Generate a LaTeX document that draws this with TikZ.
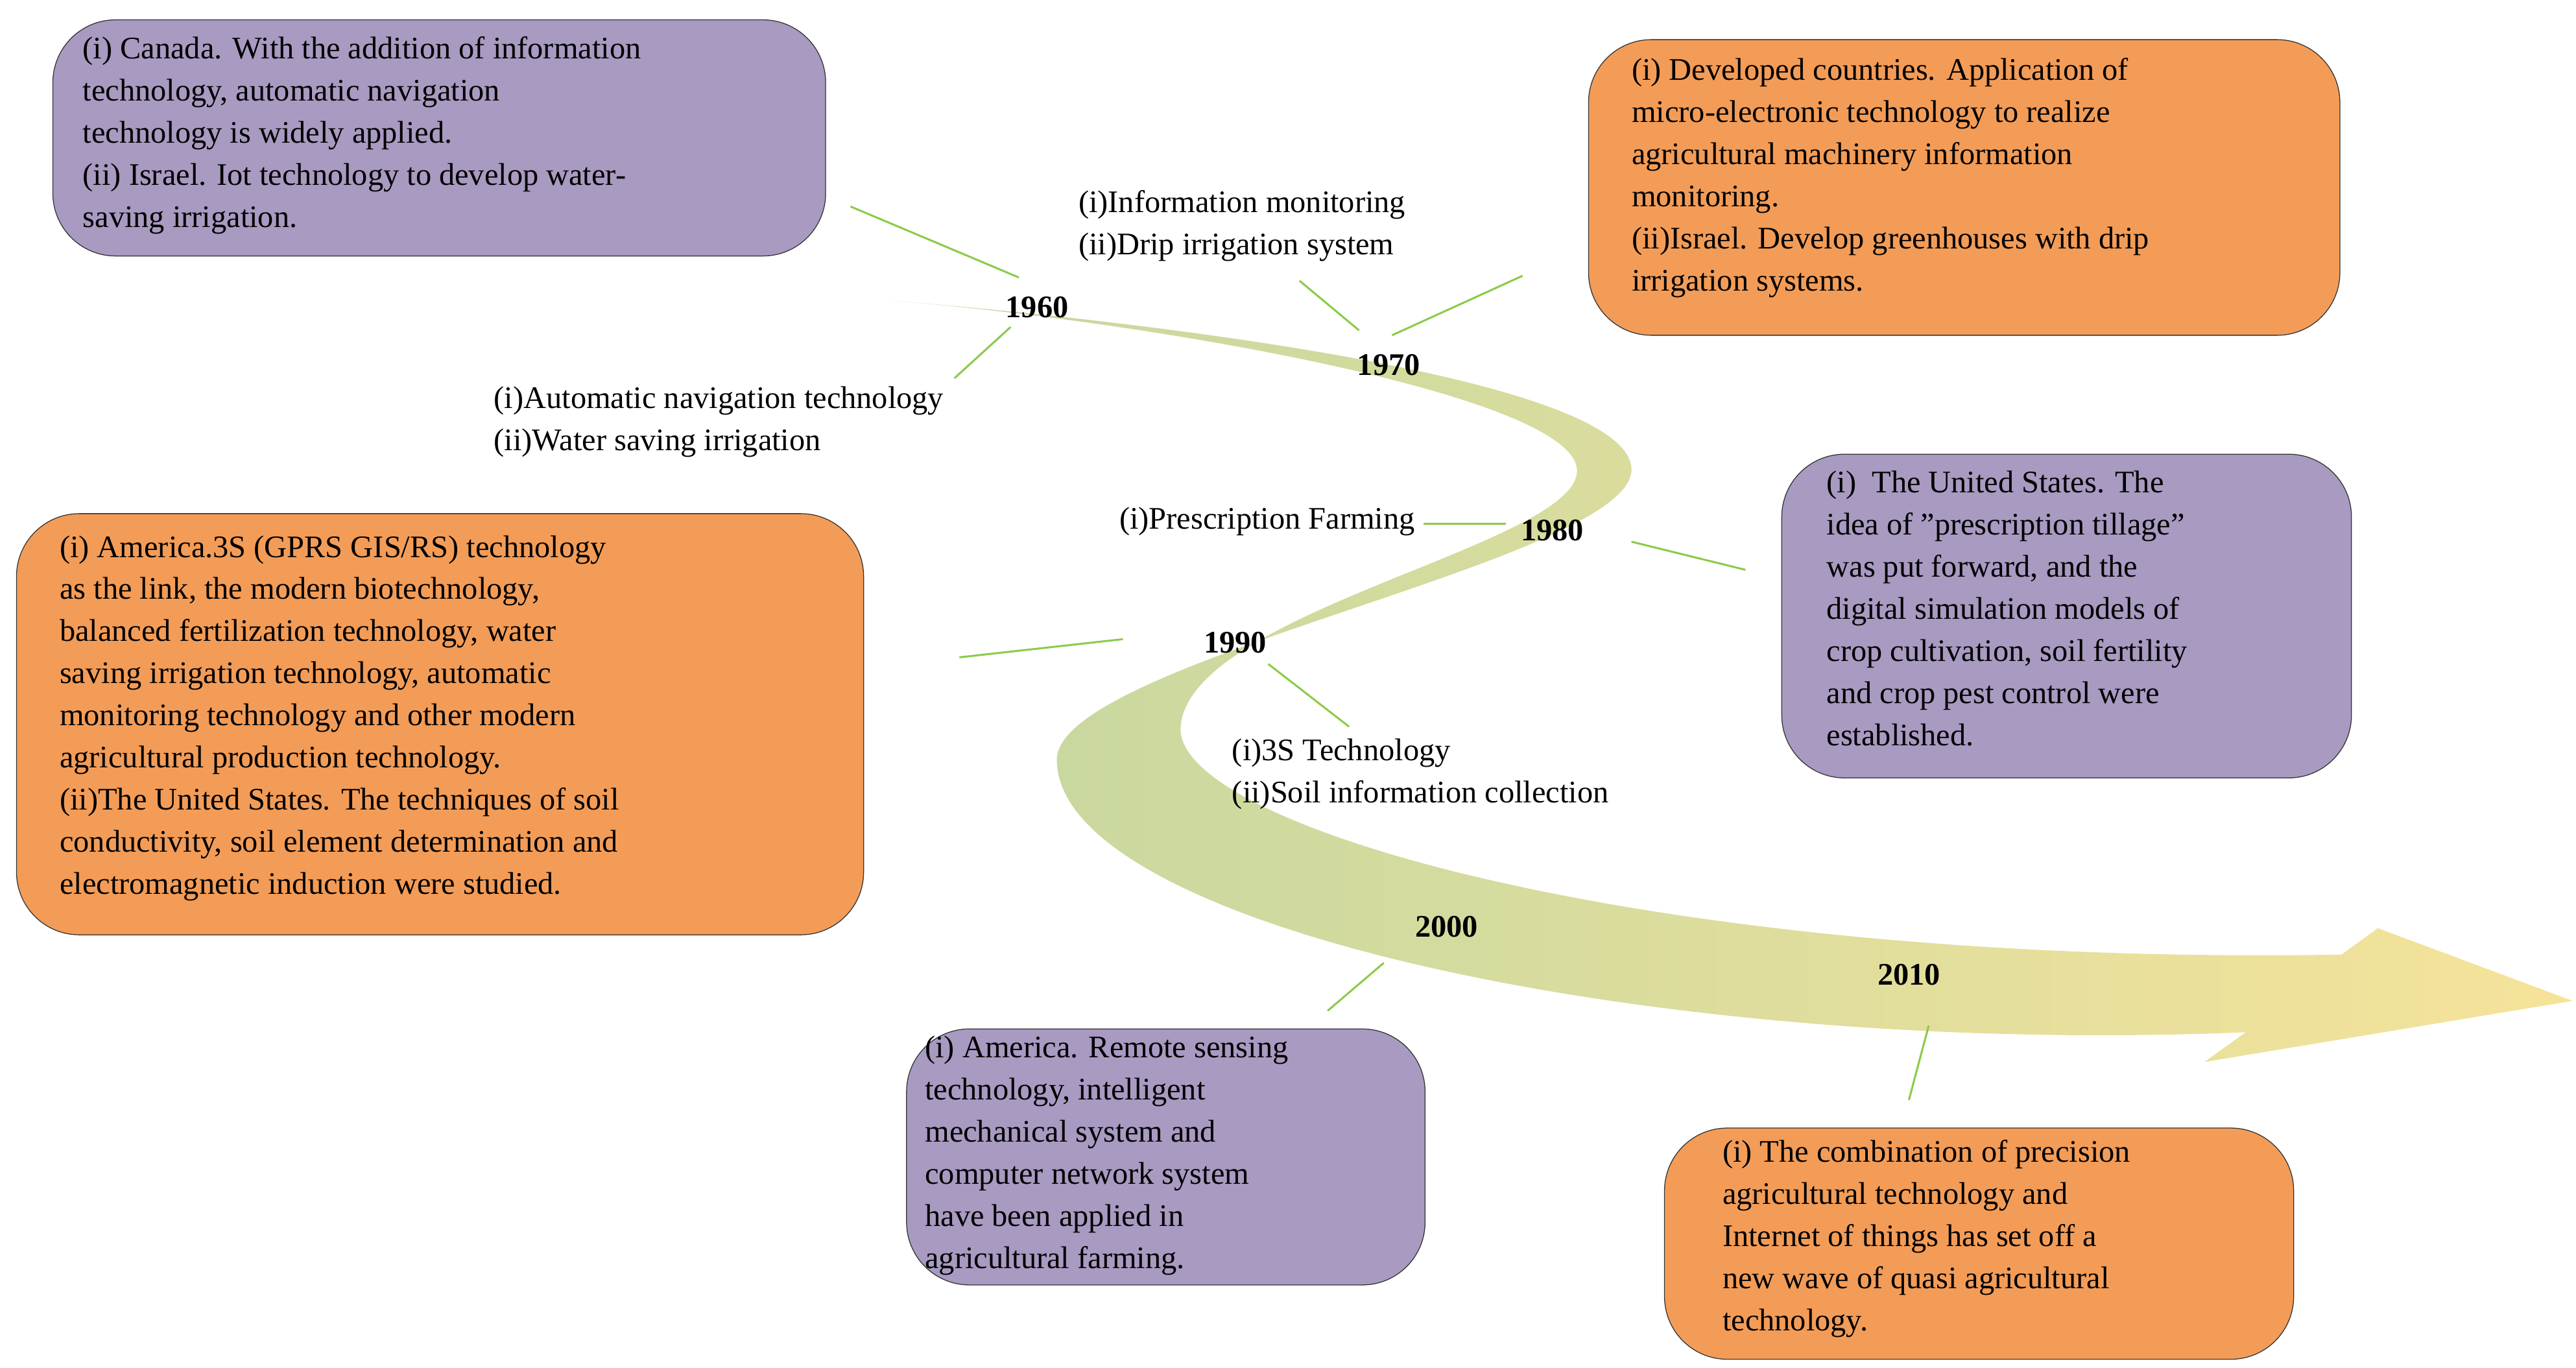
\documentclass[tikz,border=0pt]{standalone}
\usepackage{fontspec}
\setmainfont{Liberation Serif}
\begin{document}
\begin{tikzpicture}[x=1pt,y=-1pt,
  pbox/.style={draw=black!80,line width=0.5pt,fill=boxp,rounded corners=38pt},
  obox/.style={draw=black!80,line width=0.5pt,fill=boxo,rounded corners=38pt},
  txt/.style={anchor=north west,align=left,inner sep=0pt,font=\fontsize{19}{25.5}\selectfont},
  yr/.style={font=\fontsize{19}{22}\selectfont\bfseries,inner sep=1pt},
  conn/.style={draw=lineg,line width=1.2pt}]
\definecolor{boxp}{HTML}{A89AC1}
\definecolor{boxo}{HTML}{F39C57}
\definecolor{lineg}{HTML}{8CCB4A}
\definecolor{arrg}{HTML}{C4D7A0}
\definecolor{arry}{HTML}{F6E39A}
\useasboundingbox (0,0) rectangle (1560,828);
% arrow
\shade[left color=arrg,middle color=arrg!85!arry,right color=arry]
 (540,182) .. controls (700,195) and (990,230) .. (988,285)
 .. controls (985,340) and (640,400) .. (640,460)
 .. controls (640,560) and (1000,640) .. (1360,625)
 -- (1335,643) -- (1558,606) -- (1440,562) -- (1418,578)
 .. controls (1000,585) and (710,500) .. (715,440)
 .. controls (720,370) and (955,330) .. (955,285)
 .. controls (955,240) and (700,195) .. (540,182) -- cycle;
% boxes
\path[pbox] (32,12) rectangle (500,155);
\node[txt] (t1) at (50,22) {(i) Canada. With the addition of information\\technology, automatic navigation\\technology is widely applied.\\(ii) Israel. Iot technology to develop water-\\saving irrigation.};
\path[obox] (962,24) rectangle (1417,203);
\node[txt] (t2) at (988,35) {(i) Developed countries. Application of\\micro-electronic technology to realize\\agricultural machinery information\\monitoring.\\(ii)Israel. Develop greenhouses with drip\\irrigation systems.};
\path[obox] (10,311) rectangle (523,566);
\node[txt] (t3) at (36,324) {(i) America.3S (GPRS GIS/RS) technology\\as the link, the modern biotechnology,\\balanced fertilization technology, water\\saving irrigation technology, automatic\\monitoring technology and other modern\\agricultural production technology.\\(ii)The United States. The techniques of soil\\conductivity, soil element determination and\\electromagnetic induction were studied.};
\path[pbox] (1079,275) rectangle (1424,471);
\node[txt] (t4) at (1106,285) {(i)\ \ The United States. The\\idea of "prescription tillage"\\was put forward, and the\\digital simulation models of\\crop cultivation, soil fertility\\and crop pest control were\\established.};
\path[pbox] (549,623) rectangle (863,778);
\node[txt] (t5) at (560,627) {(i) America. Remote sensing\\technology, intelligent\\mechanical system and\\computer network system\\have been applied in\\agricultural farming.};
\path[obox] (1008,683) rectangle (1389,823);
\node[txt] (t6) at (1043,690) {(i) The combination of precision\\agricultural technology and\\Internet of things has set off a\\new wave of quasi agricultural\\technology.};
% side labels
\node[txt] (l1) at (653,115) {(i)Information monitoring\\(ii)Drip irrigation system};
\node[txt] (l2) at (299,234) {(i)Automatic navigation technology\\(ii)Water saving irrigation};
\node[txt,anchor=north east] (l3) at (857,307) {(i)Prescription Farming};
\node[txt] (l4) at (746,447) {(i)3S Technology\\(ii)Soil information collection};
% years
\node[yr] (y60) at (628,186) {1960};
\node[yr] (y70) at (841,221) {1970};
\node[yr] (y80) at (940,321) {1980};
\node[yr] (y90) at (748,389) {1990};
\node[yr] (y00) at (876,561) {2000};
\node[yr] (y10) at (1156,590) {2010};
% connector ends
\coordinate (a1) at (617,168); \coordinate (a2) at (515,125);
\coordinate (b1) at (612,198); \coordinate (b2) at (578,229);
\coordinate (c1) at (823,200); \coordinate (c2) at (787,170);
\coordinate (c3) at (843,203); \coordinate (c4) at (922,167);
\coordinate (d1) at (862,317); \coordinate (d2) at (912,317);
\coordinate (d3) at (988,328); \coordinate (d4) at (1057,345);
\coordinate (e1) at (581,398); \coordinate (e2) at (680,387);
\coordinate (e3) at (768,402); \coordinate (e4) at (817,440);
\coordinate (f1) at (838,583); \coordinate (f2) at (804,612);
\coordinate (g1) at (1168,621); \coordinate (g2) at (1156,666);
\draw[conn] (a1)--(a2); \draw[conn] (b1)--(b2);
\draw[conn] (c1)--(c2); \draw[conn] (c3)--(c4);
\draw[conn] (d1)--(d2); \draw[conn] (d3)--(d4);
\draw[conn] (e1)--(e2); \draw[conn] (e3)--(e4);
\draw[conn] (f1)--(f2); \draw[conn] (g1)--(g2);
\end{tikzpicture}
\end{document}
